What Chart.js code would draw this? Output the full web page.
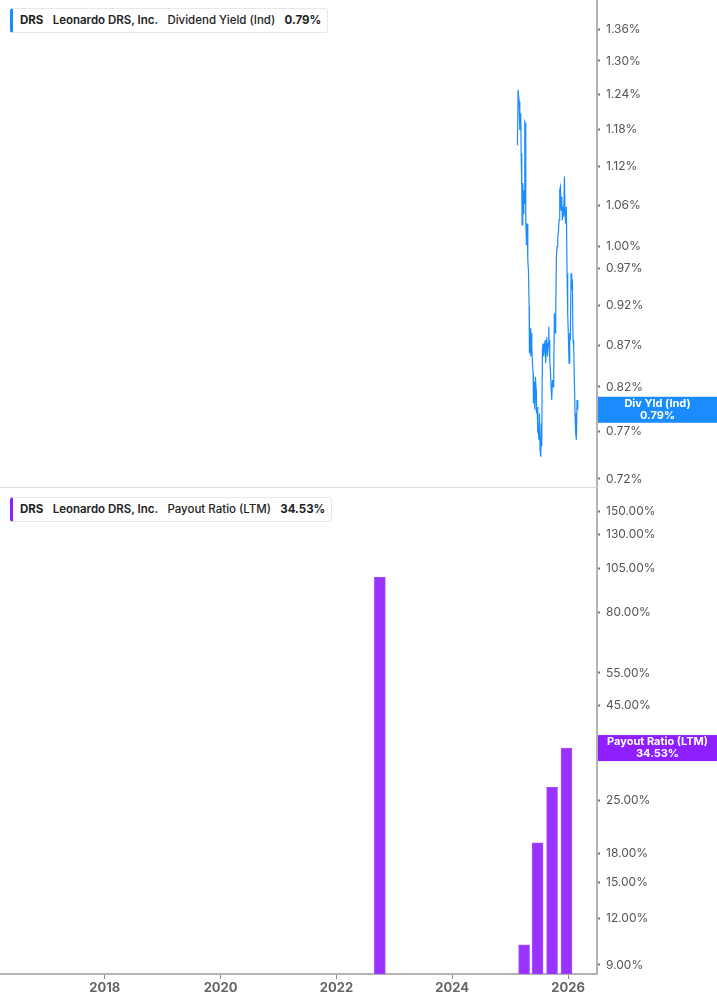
<!DOCTYPE html>
<html>
<head>
<meta charset="utf-8">
<script src="https://cdn.jsdelivr.net/npm/chart.js@4.4.1/dist/chart.umd.min.js"></script>
<style>
  html, body { margin: 0; padding: 0; background: #fff; }
  #wrap { position: relative; width: 717px; height: 1005px; font-family: Inter, "Noto Sans", sans-serif; }
  .pane { position: absolute; left: 0; width: 717px; }
  .legend {
    position: absolute; left: 10px; height: 23px; line-height: 23px;
    background: #fff; border: 1px solid #e8e8e8; border-left: 3px solid #1a8cff;
    border-radius: 3px; padding: 0 6px 0 7px; font-size: 11.5px; color: #222; white-space: nowrap;
  }
  .legend span { margin-right: 6px; }
  .legend span:last-child { margin-right: 0; }
  .b { font-weight: 700; }
  .m { font-weight: 600; }
  .n { font-weight: 500; }
  #sep { position: absolute; left: 0; top: 487px; width: 597px; height: 1px; background: #d9d9d9; }
</style>
</head>
<body>
<div id="wrap">
  <div class="pane" style="top:0;height:487px"><canvas id="yieldChart" width="717" height="487"></canvas></div>
  <div class="pane" style="top:487px;height:518px"><canvas id="payoutChart" width="717" height="518"></canvas></div>
  <div id="sep"></div>
  <div class="legend" style="top:8px"><span class="b">DRS</span> <span class="m">Leonardo DRS, Inc.</span> <span class="n">Dividend Yield (Ind)</span> <span class="b">0.79%</span></div>
  <div class="legend" style="top:497px;border-left-color:#8f1fff"><span class="b">DRS</span> <span class="m">Leonardo DRS, Inc.</span> <span class="n">Payout Ratio (LTM)</span> <span class="b">34.53%</span></div>
</div>
<script>
// dividend yield (ind), % - decimal year / value
const yieldDates = [
  2025.126, 2025.138, 2025.155, 2025.167, 2025.172, 2025.184, 2025.190, 2025.201, 2025.207, 2025.218,
  2025.224, 2025.236, 2025.247, 2025.253, 2025.264, 2025.270, 2025.282, 2025.293, 2025.305, 2025.316,
  2025.328, 2025.333, 2025.345, 2025.356, 2025.362, 2025.374, 2025.385, 2025.397, 2025.402, 2025.414,
  2025.425, 2025.437, 2025.448, 2025.454, 2025.466, 2025.477, 2025.489, 2025.494, 2025.506, 2025.517,
  2025.529, 2025.540, 2025.546, 2025.557, 2025.569, 2025.580, 2025.592, 2025.603, 2025.615, 2025.621,
  2025.632, 2025.644, 2025.655, 2025.667, 2025.672, 2025.684, 2025.695, 2025.707, 2025.718, 2025.730,
  2025.741, 2025.753, 2025.764, 2025.776, 2025.787, 2025.799, 2025.810, 2025.822, 2025.833, 2025.845,
  2025.856, 2025.868, 2025.879, 2025.891, 2025.902, 2025.914, 2025.925, 2025.937, 2025.948, 2025.960,
  2025.971, 2025.983, 2025.994, 2026.006, 2026.017, 2026.029, 2026.040, 2026.052, 2026.064, 2026.075,
  2026.086, 2026.098, 2026.109, 2026.121, 2026.132, 2026.144, 2026.155, 2026.167
];
const yieldValues = [
  1.154, 1.248, 1.227, 1.179, 1.207, 1.204, 1.141, 1.088, 1.031, 1.094,
  1.048, 1.083, 1.063, 1.193, 1.190, 1.038, 1.002, 1.033, 0.981, 0.967,
  0.919, 0.860, 0.891, 0.856, 0.885, 0.868, 0.848, 0.836, 0.801, 0.826,
  0.794, 0.832, 0.817, 0.790, 0.797, 0.768, 0.775, 0.761, 0.790, 0.750,
  0.743, 0.779, 0.754, 0.864, 0.872, 0.856, 0.868, 0.876, 0.848, 0.868,
  0.880, 0.856, 0.872, 0.893, 0.876, 0.852, 0.840, 0.820, 0.805, 0.828,
  0.820, 0.836, 0.910, 0.885, 0.910, 0.986, 1.000, 1.014, 1.019, 1.038,
  1.083, 1.088, 1.053, 1.073, 1.038, 1.058, 1.043, 1.104, 1.048, 1.033,
  1.058, 0.963, 0.910, 0.880, 0.848, 0.885, 0.876, 0.963, 0.945, 0.949,
  0.876, 0.868, 0.828, 0.790, 0.768, 0.761, 0.805, 0.794
];

// payout ratio (LTM), % - quarterly bars
const payoutDates = [2022.75, 2025.241, 2025.474, 2025.724, 2025.974];
const payoutValues = [99.7, 10.2, 19.2, 27.1, 34.53];

const yearTicks = [2018, 2020, 2022, 2024, 2026];
const yieldTicks = [0.72, 0.77, 0.82, 0.87, 0.92, 0.97, 1.00, 1.06, 1.12, 1.18, 1.24, 1.30, 1.36];
const payoutTicks = [9, 12, 15, 18, 25, 35, 45, 55, 80, 105, 130, 150];

const FONT = 'Inter, "Noto Sans", sans-serif';
const X_MIN = 2016.19, X_MAX = 2026.5;
const AXIS_W = 120;

function fixY(scale) {
  scale.width = AXIS_W;
  scale.paddingTop = 0;
  scale.paddingBottom = 0;
}

// value badge on the right axis at the last value
function badge(text1, text2, color) {
  return {
    id: 'badge',
    afterDraw(chart) {
      const { ctx, chartArea, scales } = chart;
      const data = chart.data.datasets[0].data;
      const y = scales.y.getPixelForValue(data[data.length - 1].y);
      const x0 = chartArea.right + 1, w = chart.width - x0, h = 26;
      ctx.save();
      ctx.fillStyle = color;
      ctx.fillRect(x0, y - h / 2, w, h);
      ctx.fillStyle = '#fff';
      ctx.font = '700 11px ' + FONT;
      ctx.textAlign = 'center';
      ctx.textBaseline = 'middle';
      ctx.fillText(text1, x0 + w / 2, y - 6);
      ctx.fillText(text2, x0 + w / 2, y + 6);
      ctx.restore();
    }
  };
}

const yAxisCommon = {
  position: 'right',
  type: 'logarithmic',
  border: { display: true, color: '#b3b3b3', width: 2 },
  grid: { drawOnChartArea: false, drawTicks: true, tickLength: 3, tickColor: '#777', tickWidth: 2 },
  ticks: {
    color: '#555', padding: 6, font: { family: FONT, size: 12 },
    callback: v => Number(v).toFixed(2) + '%'
  },
  afterFit: fixY
};

new Chart(document.getElementById('yieldChart'), {
  type: 'line',
  data: {
    datasets: [{
      data: yieldDates.map((d, i) => ({ x: d, y: yieldValues[i] })),
      borderColor: '#1a8cff',
      borderWidth: 1.2,
      pointRadius: 0,
      tension: 0
    }]
  },
  options: {
    responsive: false,
    animation: false,
    layout: { padding: 0 },
    plugins: { legend: { display: false }, tooltip: { enabled: false } },
    scales: {
      x: { type: 'linear', min: X_MIN, max: X_MAX, display: false },
      y: Object.assign({}, yAxisCommon, {
        min: 0.7119, max: 1.417,
        afterBuildTicks: s => { s.ticks = yieldTicks.map(v => ({ value: v })); }
      })
    }
  },
  plugins: [badge('Div Yld (Ind)', '0.79%', '#1a8cff')]
});

new Chart(document.getElementById('payoutChart'), {
  type: 'bar',
  data: {
    datasets: [{
      data: payoutDates.map((d, i) => ({ x: d, y: payoutValues[i] })),
      backgroundColor: '#9a33ff',
      borderColor: '#a855ff',
      borderWidth: 1,
      barThickness: 11
    }]
  },
  options: {
    responsive: false,
    animation: false,
    layout: { padding: 0 },
    plugins: { legend: { display: false }, tooltip: { enabled: false } },
    scales: {
      x: {
        type: 'linear', min: X_MIN, max: X_MAX, offset: false,
        border: { display: true, color: '#b3b3b3', width: 2 },
        grid: { offset: false, drawOnChartArea: false, drawTicks: true, tickLength: 5, tickColor: '#888', tickWidth: 1 },
        ticks: {
          color: '#666', padding: 1, maxRotation: 0, font: { family: FONT, size: 13, weight: '700' },
          callback: v => String(v)
        },
        afterBuildTicks: s => { s.ticks = yearTicks.map(v => ({ value: v })); },
        afterFit: s => { s.height = 31; s.paddingLeft = 0; s.paddingRight = 0; }
      },
      y: Object.assign({}, yAxisCommon, {
        min: 8.51, max: 174.2,
        afterBuildTicks: s => { s.ticks = payoutTicks.map(v => ({ value: v })); }
      })
    }
  },
  plugins: [badge('Payout Ratio (LTM)', '34.53%', '#8f1fff')]
});
</script>
</body>
</html>
